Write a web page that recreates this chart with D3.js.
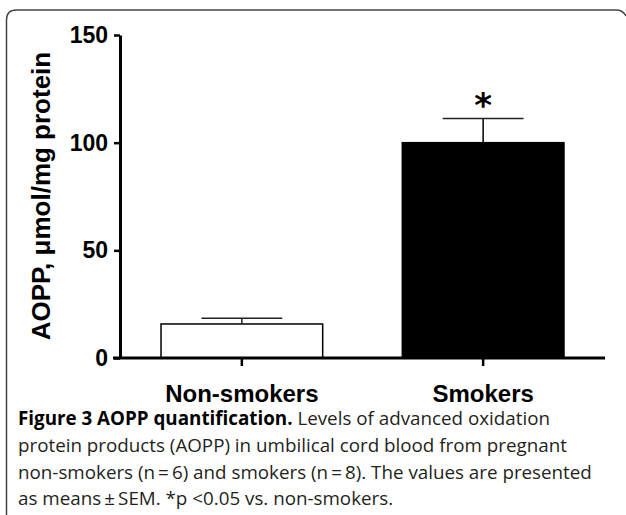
<!DOCTYPE html>
<html>
<head>
<meta charset="utf-8">
<script src="https://cdn.jsdelivr.net/npm/d3@7"></script>
<style>
  body { margin: 0; background: #fff; }
  svg { display: block; }
</style>
</head>
<body>
<svg id="chart" width="626" height="515"></svg>
<script>
// data
const groups = ['Non-smokers', 'Smokers']
const means = [15.8, 100]
const sems = [2.7, 11.2]
const fills = ['#ffffff', '#000000']
const yTicks = [0, 50, 100, 150]
const marks = ['', '*']
const yLabel = 'AOPP, \u03bcmol/mg protein'
const captionBold = 'Figure 3 AOPP quantification.'
const captionLines = [
  ' Levels of advanced oxidation',
  'protein products (AOPP) in umbilical cord blood from pregnant',
  'non-smokers (n\u2009=\u20096) and smokers (n\u2009=\u20098). The values are presented',
  'as means\u2009\u00b1\u2009SEM. *p <0.05 vs. non-smokers.'
]

const svg = d3.select('#chart')

// frame (open at right/bottom, cut by the image edge)
svg.append('path')
  .attr('d', 'M6.5,515 L6.5,20 Q6.5,10 16.5,10 L616,10 Q623,10 626,16')
  .attr('fill', 'none')
  .attr('stroke', '#444')
  .attr('stroke-width', 1.5)

const y = d3.scaleLinear().domain([0, 150]).range([358, 35])
const x = d3.scaleBand().domain(groups).range([120, 605])
  .paddingInner(0.33).paddingOuter(0.17)

const g = svg.append('g')
const font = '"Liberation Sans", Arial, sans-serif'

// bars
g.selectAll('rect.bar')
  .data(groups)
  .join('rect')
  .attr('class', 'bar')
  .attr('x', d => x(d))
  .attr('width', x.bandwidth())
  .attr('y', (d, i) => y(means[i]))
  .attr('height', (d, i) => y(0) - y(means[i]))
  .attr('fill', (d, i) => fills[i])
  .attr('stroke', '#000')
  .attr('stroke-width', 1.5)

// error bars (upper only)
groups.forEach((d, i) => {
  const cx = x(d) + x.bandwidth() / 2
  const top = y(means[i] + sems[i])
  g.append('line')
    .attr('x1', cx).attr('x2', cx)
    .attr('y1', y(means[i])).attr('y2', top)
    .attr('stroke', i ? '#000' : '#222').attr('stroke-width', 1.5)
  g.append('line')
    .attr('x1', cx - x.bandwidth() / 4).attr('x2', cx + x.bandwidth() / 4)
    .attr('y1', top).attr('y2', top)
    .attr('stroke', '#222').attr('stroke-width', 1.5)
  if (marks[i]) {
    g.append('text')
      .attr('x', cx).attr('y', top - 2)
      .attr('text-anchor', 'middle')
      .attr('font-family', '"DejaVu Sans", sans-serif')
      .attr('font-weight', 'bold')
      .attr('font-size', 34)
      .text(marks[i])
  }
})

// axes
const yAxis = g.append('g')
  .attr('transform', 'translate(' + 120 + ',0)')
  .call(d3.axisLeft(y).tickValues(yTicks).tickSize(6).tickPadding(6).tickSizeOuter(0))
const xAxis = g.append('g')
  .attr('transform', 'translate(0,' + y(0) + ')')
  .call(d3.axisBottom(x).tickSize(8).tickPadding(19).tickSizeOuter(0))

;[yAxis, xAxis].forEach(a => {
  a.select('.domain').attr('stroke-width', 3)
  a.selectAll('.tick line').attr('stroke-width', 2.5)
  a.selectAll('text')
    .attr('font-family', font)
    .attr('font-weight', 'bold')
    .attr('font-size', 23)
    .attr('fill', '#000')
})
xAxis.selectAll('text').attr('font-size', 24)
xAxis.select('.domain').attr('d', 'M113,0H605')

// y label
g.append('text')
  .attr('transform', 'translate(50,' + 196 + ') rotate(-90)')
  .attr('text-anchor', 'middle')
  .attr('font-family', font)
  .attr('font-weight', 'bold')
  .attr('font-size', 26)
  .text(yLabel)

// caption
const cap = svg.append('g')
  .attr('font-family', '"Open Sans", sans-serif')
  .attr('font-size', 18.8)
  .attr('fill', '#231f20')
captionLines.forEach((line, i) => {
  const t = cap.append('text').attr('x', 18).attr('y', 425 + i * 26.8)
  if (i === 0) t.append('tspan').attr('font-weight', 'bold').attr('fill', '#000').text(captionBold)
  t.append('tspan').text(line)
})
</script>
</body>
</html>
